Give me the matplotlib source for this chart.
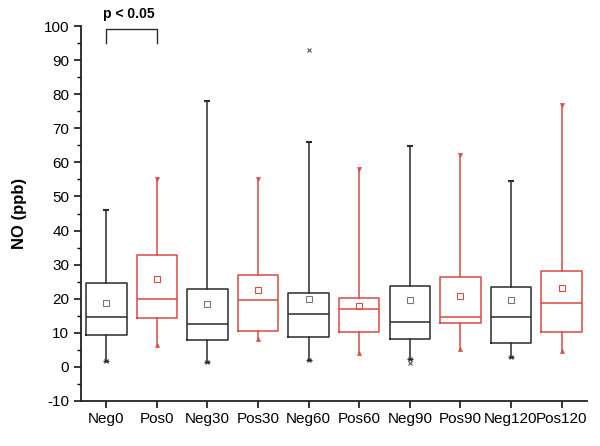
import matplotlib
matplotlib.use('Agg')
import matplotlib.pyplot as plt

plt.rcParams['font.family'] = ['Liberation Sans', 'DejaVu Sans']
plt.rcParams['axes.unicode_minus'] = False

groups = ['Neg0', 'Pos0', 'Neg30', 'Pos30', 'Neg60', 'Pos60', 'Neg90', 'Pos90', 'Neg120', 'Pos120']
whis_lo = [1.8, 6.5, 1.5, 8.2, 2.0, 4.0, 2.3, 5.2, 3.0, 4.7]
q1 = [9.5, 14.3, 7.9, 10.6, 8.8, 10.1, 8.2, 12.8, 6.9, 10.2]
median = [14.7, 20.0, 12.5, 19.5, 15.4, 17.1, 13.1, 14.7, 14.6, 18.8]
q3 = [24.7, 32.9, 22.8, 26.9, 21.6, 20.3, 23.8, 26.5, 23.3, 28.1]
whis_hi = [46.0, 55.0, 78.0, 55.0, 66.1, 58.2, 64.9, 62.3, 54.5, 76.7]
means = [18.6, 25.9, 18.5, 22.7, 19.9, 18.0, 19.5, 20.9, 19.7, 23.2]
outliers = [[], [], [], [], [93.0], [], [1.0], [], [], []]

black = '#2b2b2b'
red = '#d94a44'
colors = [black if g.startswith('Neg') else red for g in groups]

stats = []
for i, g in enumerate(groups):
    stats.append(dict(label=g, whislo=whis_lo[i], q1=q1[i], med=median[i],
                      q3=q3[i], whishi=whis_hi[i], mean=means[i], fliers=outliers[i]))

fig = plt.figure(figsize=(6, 4.46), dpi=100)
ax = fig.add_axes([0.135, 0.1009, 0.843, 0.8408])

pos = list(range(1, len(groups) + 1))
for i, s in enumerate(stats):
    c = colors[i]
    ax.bxp([s], positions=[pos[i]], widths=0.8, showmeans=True, showcaps=False,
           boxprops=dict(color=c, lw=1.1),
           whiskerprops=dict(color=c, lw=1.1),
           medianprops=dict(color=c, lw=1.1),
           meanprops=dict(marker='s', markersize=4, markerfacecolor='none',
                          markeredgecolor='#777777' if c == black else c, markeredgewidth=0.8),
           flierprops=dict(marker='x', markersize=3.5, markeredgecolor='#555555', markeredgewidth=0.8))
    if c == black:
        ax.plot(pos[i], whis_hi[i], marker='_', color=c, markersize=5, mew=1.5)
        ax.plot(pos[i], whis_lo[i], marker='x', color=c, markersize=3, mew=0.8)
        ax.plot(pos[i], whis_lo[i], marker='_', color=c, markersize=4, mew=1.0)
    else:
        ax.plot(pos[i], whis_hi[i], marker='v', color=c, markersize=3, mew=0.4)
        ax.plot(pos[i], whis_lo[i], marker='^', color=c, markersize=3, mew=0.4)

ax.set_xlim(0.5, 10.5)
ax.set_ylim(-10, 100)
ax.set_xticks(pos)
ax.set_xticklabels(groups, fontsize=11)
ax.set_yticks(range(-10, 101, 10))
ax.set_yticks(range(-5, 100, 10), minor=True)
ax.tick_params(axis='y', labelsize=11, direction='out', length=5, width=1.1)
ax.tick_params(axis='y', which='minor', direction='out', length=3, width=1.0)
ax.tick_params(axis='x', direction='out', length=5, width=1.1, pad=3)
for sp in ['top', 'right']:
    ax.spines[sp].set_visible(False)
for sp in ['left', 'bottom']:
    ax.spines[sp].set_linewidth(1.3)
    ax.spines[sp].set_color('#222222')
ax.set_ylabel('NO (ppb)', fontsize=12, fontweight='bold', labelpad=12)

# significance bracket
ax.plot([1, 1, 2, 2], [95, 99.1, 99.1, 95], color=black, lw=1.0, clip_on=False)
ax.text(1.45, 103.5, 'p < 0.05', ha='center', va='center', fontsize=10,
        fontweight='bold', clip_on=False)

fig.savefig('out.png', dpi=100)
